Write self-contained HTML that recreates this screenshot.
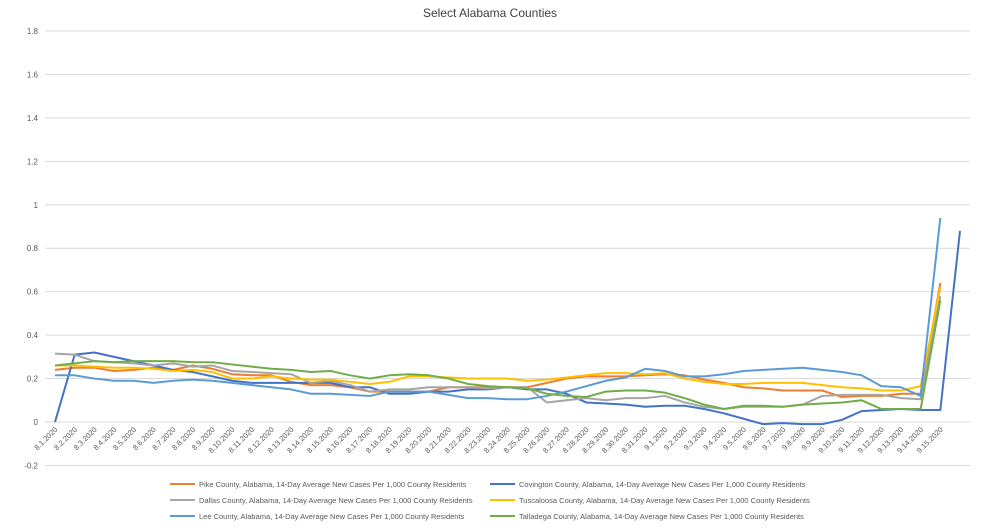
<!DOCTYPE html>
<html><head><meta charset="utf-8"><style>
body{margin:0;background:#fff;font-family:"Liberation Sans",sans-serif}
svg text{font-family:"Liberation Sans",sans-serif}
</style></head><body>
<svg id="c" width="981" height="526">
<text x="490" y="17" text-anchor="middle" font-size="12" fill="#404040">Select Alabama Counties</text>
<g id="grid"></g><g id="xl"></g><g id="lines"></g><g id="legend"></g>
</svg>
<script>
const categories=["8.1.2020","8.2.2020","8.3.2020","8.4.2020","8.5.2020","8.6.2020","8.7.2020","8.8.2020","8.9.2020","8.10.2020","8.11.2020","8.12.2020","8.13.2020","8.14.2020","8.15.2020","8.16.2020","8.17.2020","8.18.2020","8.19.2020","8.20.2020","8.21.2020","8.22.2020","8.23.2020","8.24.2020","8.25.2020","8.26.2020","8.27.2020","8.28.2020","8.29.2020","8.30.2020","8.31.2020","9.1.2020","9.2.2020","9.3.2020","9.4.2020","9.5.2020","9.6.2020","9.7.2020","9.8.2020","9.9.2020","9.10.2020","9.11.2020","9.12.2020","9.13.2020","9.14.2020","9.15.2020",""];
const yTicks=[-0.2,0,0.2,0.4,0.6,0.8,1,1.2,1.4,1.6,1.8];
const yTickLabels=["-0.2","0","0.2","0.4","0.6","0.8","1","1.2","1.4","1.6","1.8"];
const pike=[.24,.25,.25,.235,.24,.25,.24,.26,.245,.22,.215,.215,.185,.17,.17,.16,.14,.14,.14,.14,.16,.16,.16,.16,.16,.18,.20,.21,.21,.21,.215,.22,.215,.195,.18,.16,.155,.145,.145,.145,.115,.12,.12,.13,.13,.64];
const covington=[0,.31,.32,.30,.28,.26,.24,.23,.21,.19,.18,.18,.18,.18,.18,.16,.16,.13,.13,.14,.14,.15,.15,.16,.15,.15,.13,.09,.085,.08,.07,.075,.075,.06,.04,.015,-.01,-.005,-.01,-.01,.01,.05,.055,.06,.055,.055,.88];
const dallas=[.315,.31,.28,.275,.27,.26,.27,.255,.26,.235,.23,.225,.22,.18,.19,.17,.14,.15,.15,.16,.16,.16,.155,.16,.16,.09,.10,.11,.10,.11,.11,.12,.09,.07,.06,.07,.07,.07,.08,.12,.125,.125,.125,.11,.105,.58];
const tuscaloosa=[.26,.26,.255,.25,.25,.245,.235,.24,.23,.20,.20,.21,.20,.195,.195,.185,.175,.185,.21,.21,.205,.2,.2,.2,.19,.195,.205,.215,.225,.225,.22,.225,.2,.185,.175,.175,.18,.18,.18,.17,.16,.155,.145,.145,.165,.62];
const lee=[.215,.215,.2,.19,.19,.18,.19,.195,.19,.18,.17,.16,.15,.13,.13,.125,.12,.14,.14,.14,.125,.11,.11,.105,.105,.12,.14,.165,.19,.205,.245,.235,.21,.21,.22,.235,.24,.245,.25,.24,.23,.215,.165,.16,.12,.94];
const talladega=[.26,.27,.28,.275,.28,.28,.28,.275,.275,.265,.255,.245,.24,.23,.235,.215,.2,.215,.22,.215,.2,.175,.165,.16,.155,.13,.12,.115,.14,.145,.145,.135,.11,.08,.06,.075,.075,.07,.08,.085,.09,.1,.06,.06,.06,.56];
const seriesNames=["Pike County, Alabama, 14-Day Average New Cases Per 1,000 County Residents","Covington County, Alabama, 14-Day Average New Cases Per 1,000 County Residents","Dallas County, Alabama, 14-Day Average New Cases Per 1,000 County Residents","Tuscaloosa County, Alabama, 14-Day Average New Cases Per 1,000 County Residents","Lee County, Alabama, 14-Day Average New Cases Per 1,000 County Residents","Talladega County, Alabama, 14-Day Average New Cases Per 1,000 County Residents"];
const seriesData=[pike,covington,dallas,tuscaloosa,lee,talladega];
const colors=["#ED7D31","#4472C4","#A5A5A5","#FFC000","#5B9BD5","#70AD47"];
const slugs=["pike","covington","dallas","tuscaloosa","lee","talladega"];
const NS="http://www.w3.org/2000/svg";
const x0=55,dx=(960-55)/(categories.length-1);
const X=i=>x0+i*dx;
const Y=v=>422-v*217.2;
function mk(t,a,p){const e=document.createElementNS(NS,t);for(const k in a)e.setAttribute(k,a[k]);p.appendChild(e);return e;}
const grid=document.getElementById('grid');
yTicks.forEach((v,i)=>{
 const l=mk('line',{x1:45,x2:970,y1:Y(v),y2:Y(v),stroke:'#d9d9d9','stroke-width':1},grid);
 
 
 const t=mk('text',{x:38,y:Y(v)+3,'text-anchor':'end','font-size':8,fill:'#595959'},grid);
 t.textContent=yTickLabels[i];
 
 
});
const xl=document.getElementById('xl');
categories.forEach((c,i)=>{
 if(!c)return;
 const t=mk('text',{x:X(i)+3,y:430,'text-anchor':'end','font-size':7.5,fill:'#595959',transform:`rotate(-45 ${X(i)+3} 430)`},xl);
 t.textContent=c;
 
 
});
const lines=document.getElementById('lines');
seriesData.forEach((d,s)=>{
 const p=mk('polyline',{points:d.map((v,i)=>X(i)+','+Y(v)).join(' '),fill:'none',stroke:colors[s],'stroke-width':2,'stroke-linejoin':'round'},lines);
 
 
});
const lg=document.getElementById('legend');
seriesNames.forEach((n,s)=>{
 const col=s%2,row=Math.floor(s/2);
 const lx=col?490:170,ly=484+row*16;
 const g=mk('g',{},lg);
 
 
 mk('line',{x1:lx,x2:lx+25,y1:ly,y2:ly,stroke:colors[s],'stroke-width':2},g);
 const t=mk('text',{x:lx+29,y:ly+3,'font-size':7.5,fill:'#595959'},g);
 t.textContent=n;
});
</script>
</body></html>
